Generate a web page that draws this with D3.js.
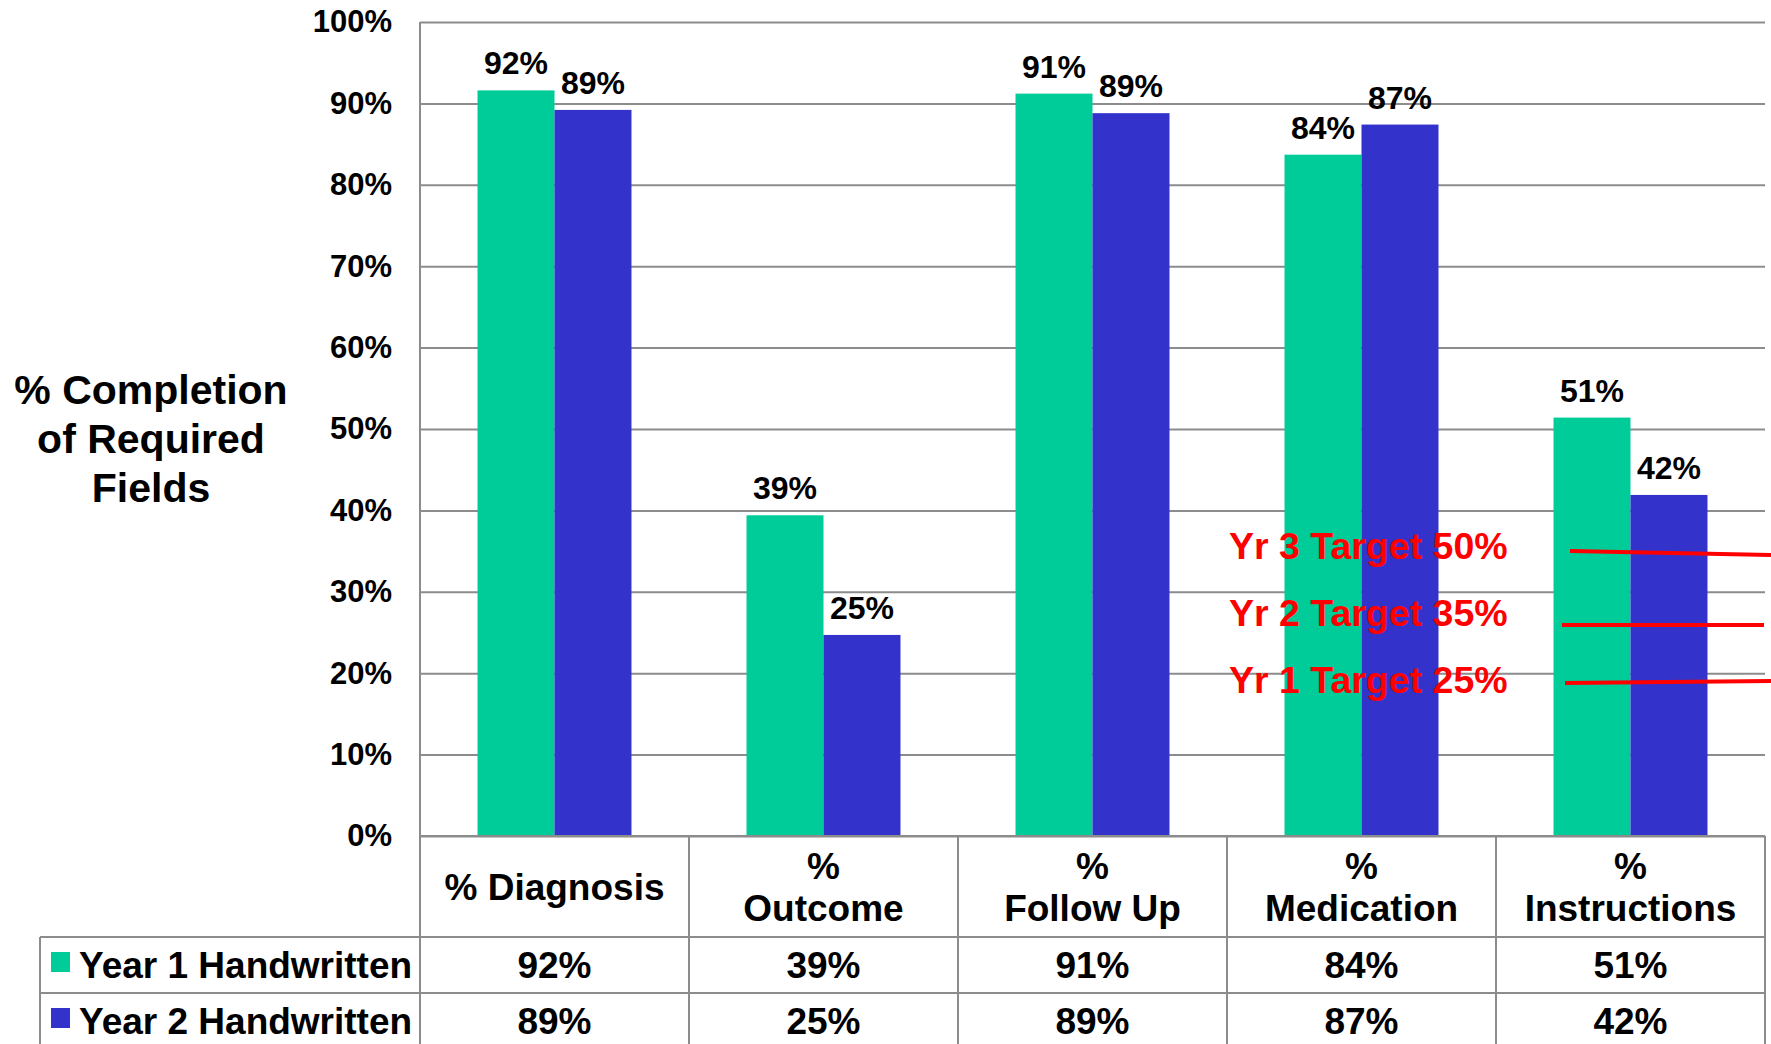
<!DOCTYPE html>
<html>
<head>
<meta charset="utf-8">
<script src="https://cdn.jsdelivr.net/npm/d3@7"></script>
<style>
  html, body { margin: 0; padding: 0; background: #fff; }
  svg text { font-family: "Liberation Sans", Arial, Helvetica, sans-serif; font-weight: bold; }
</style>
</head>
<body>
<svg id="chart" width="1771" height="1044"></svg>
<script>
'use strict';

// chart data
var categories = ['% Diagnosis', '% Outcome', '% Follow Up', '% Medication', '% Instructions'];
var headerLines = [['% Diagnosis'], ['%', 'Outcome'], ['%', 'Follow Up'], ['%', 'Medication'], ['%', 'Instructions']];
var seriesNames = ['Year 1 Handwritten', 'Year 2 Handwritten'];
var year1 = [0.916, 0.394, 0.912, 0.837, 0.514];
var year2 = [0.892, 0.247, 0.888, 0.874, 0.419];
var yTicks = [0, 0.1, 0.2, 0.3, 0.4, 0.5, 0.6, 0.7, 0.8, 0.9, 1];
var targets = ['Yr 3 Target 50%', 'Yr 2 Target 35%', 'Yr 1 Target 25%'];
var yTitle = ['% Completion', 'of Required', 'Fields'];

var colors = { 'Year 1 Handwritten': '#00cc99', 'Year 2 Handwritten': '#3333cc' };
var gridColor = '#8c8c8c';

var svg = d3.select('#chart');

var plotLeft = 420, plotRight = 1765, plotTop = 22, plotBottom = 836;
var rowTops = [836, 937, 993, 1049];
var legendLeft = 40;

var x0 = d3.scaleBand().domain(categories).range([plotLeft, plotRight]).padding(0);
var x1 = d3.scaleBand().domain(seriesNames).range([0, x0.bandwidth()]).paddingInner(0).paddingOuter(0.747);
var y = d3.scaleLinear().domain([0, 1]).range([plotBottom, plotTop]);
var pct = d3.format('.0%');

var rows = seriesNames.map(function(name, i) {
  var vals = i === 0 ? year1 : year2;
  return { name: name, values: vals };
});

// gridlines + tick labels
var yAxis = d3.axisLeft(y).tickValues(yTicks).tickFormat(pct)
    .tickSize(-(plotRight - plotLeft)).tickPadding(28);

var axisG = svg.append('g')
    .attr('transform', 'translate(' + plotLeft + ',0)')
    .call(yAxis);
axisG.select('.domain').remove();
axisG.selectAll('.tick line').attr('stroke', gridColor).attr('stroke-width', 2);
axisG.selectAll('.tick text')
    .attr('fill', '#000')
    .style('font-size', '31px')
    .style('font-family', '"Liberation Sans", Arial, sans-serif')
    .style('font-weight', 'bold');

// left axis line
svg.append('line')
    .attr('x1', plotLeft).attr('x2', plotLeft)
    .attr('y1', y(1)).attr('y2', y(0))
    .attr('stroke', gridColor).attr('stroke-width', 2);

// bars
var groups = svg.append('g').selectAll('g')
    .data(categories)
    .enter().append('g')
    .attr('transform', function(d) { return 'translate(' + x0(d) + ',0)'; });

var barData = function(d, ci) {
  return rows.map(function(r) { return { name: r.name, value: r.values[ci] }; });
};

groups.selectAll('rect')
    .data(barData)
    .enter().append('rect')
    .attr('x', function(d) { return x1(d.name); })
    .attr('y', function(d) { return y(d.value); })
    .attr('width', x1.bandwidth())
    .attr('height', function(d) { return y(0) - y(d.value); })
    .attr('fill', function(d) { return colors[d.name]; });

groups.selectAll('text.val')
    .data(barData)
    .enter().append('text')
    .attr('class', 'val')
    .attr('x', function(d) { return x1(d.name) + x1.bandwidth() / 2; })
    .attr('y', function(d) { return y(d.value) - 16; })
    .attr('text-anchor', 'middle')
    .style('font-size', '32px')
    .text(function(d) { return pct(d.value); });

// y axis title
svg.append('text')
    .attr('text-anchor', 'middle')
    .style('font-size', '41px')
    .selectAll('tspan')
    .data(yTitle)
    .enter().append('tspan')
    .attr('x', 151)
    .attr('y', function(d, i) { return 404 + i * 49; })
    .text(function(d) { return d; });

// data table
var table = svg.append('g');
var cellLine = function(ax, ay, bx, by) {
  table.append('line')
      .attr('x1', ax).attr('y1', ay).attr('x2', bx).attr('y2', by)
      .attr('stroke', gridColor).attr('stroke-width', 2);
};

cellLine(plotLeft, rowTops[0], plotRight, rowTops[0]);
cellLine(legendLeft, rowTops[1], plotRight, rowTops[1]);
cellLine(legendLeft, rowTops[2], plotRight, rowTops[2]);
cellLine(legendLeft, rowTops[1], legendLeft, 1044);
categories.forEach(function(c) { cellLine(x0(c), rowTops[0], x0(c), 1044); });
cellLine(plotRight, rowTops[0], plotRight, 1044);

// header cells
categories.forEach(function(c, i) {
  var lines = headerLines[i];
  var cx = x0(c) + x0.bandwidth() / 2;
  var mid = (rowTops[0] + rowTops[1]) / 2;
  var t = table.append('text').attr('text-anchor', 'middle').style('font-size', '37px');
  lines.forEach(function(str, j) {
    var off = (j - (lines.length - 1) / 2) * 42;
    t.append('tspan').attr('x', cx).attr('y', mid + off + 13).text(str);
  });
});

// value rows with legend keys
rows.forEach(function(r, ri) {
  var mid = (rowTops[ri + 1] + rowTops[ri + 2]) / 2;
  table.append('rect')
      .attr('x', 51).attr('y', mid - 13)
      .attr('width', 19).attr('height', 20)
      .attr('fill', colors[r.name]);
  table.append('text')
      .attr('x', 79).attr('y', mid + 13)
      .style('font-size', '37px')
      .text(r.name);
  categories.forEach(function(c, ci) {
    table.append('text')
        .attr('x', x0(c) + x0.bandwidth() / 2).attr('y', mid + 13)
        .attr('text-anchor', 'middle')
        .style('font-size', '37px')
        .text(pct(r.values[ci]));
  });
});

// target annotations (drawn over the bars)
var tg = svg.append('g');
var targetRows = [559, 626, 693];
var targetLines = [[1570, 551, 1771, 555], [1562, 625, 1764, 625], [1565, 683, 1771, 681]];
targets.forEach(function(t, i) {
  tg.append('text')
      .attr('x', 1229).attr('y', targetRows[i])
      .attr('fill', '#ff0000')
      .style('font-size', '37.5px')
      .text(t);
  var l = targetLines[i];
  tg.append('line')
      .attr('x1', l[0]).attr('y1', l[1]).attr('x2', l[2]).attr('y2', l[3])
      .attr('stroke', '#ff0000').attr('stroke-width', 4);
});
</script>
</body>
</html>
